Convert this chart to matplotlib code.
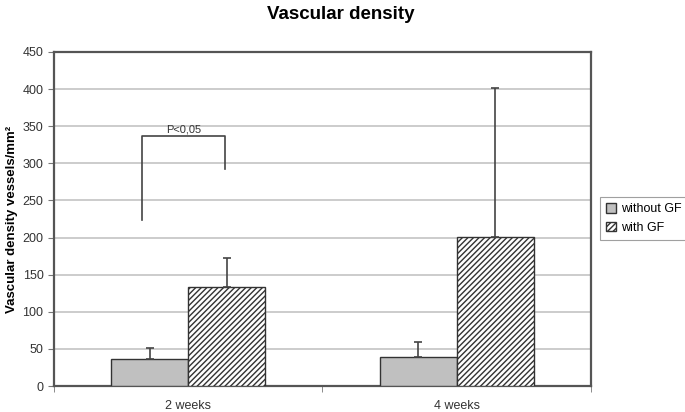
import numpy as np
import matplotlib.pyplot as plt

plt.rcParams['font.family'] = ['Liberation Sans', 'DejaVu Sans']
plt.rcParams['hatch.linewidth'] = 1.0

# data
groups = ['2 weeks', '4 weeks']
without_gf = [36, 39]
without_gf_err = [15, 20]
with_gf = [133, 201]
with_gf_err = [39, 200]
series_labels = ['without GF', 'with GF']

# significance bracket (left leg bottom, right leg bottom, top)
bracket_x = [-0.173, 0.136]
bracket_y = [224, 337, 292]
bracket_text = 'P<0,05'

fig = plt.figure(figsize=(6.85, 4.12), dpi=100)
ax = fig.add_axes([0.0788, 0.0631, 0.784, 0.8107])

x = np.arange(len(groups))
w = 0.287
edge = '#333333'

b1 = ax.bar(x - w / 2, without_gf, w, color='#c0c0c0', edgecolor=edge,
            linewidth=1.0, zorder=3, label=series_labels[0])
b2 = ax.bar(x + w / 2, with_gf, w, color='white', edgecolor=edge, hatch='//////',
            linewidth=1.0, zorder=3, label=series_labels[1])
ax.errorbar(x - w / 2, without_gf, yerr=[np.zeros(2), without_gf_err], fmt='none',
            ecolor='#444444', elinewidth=1.2, capsize=3, capthick=1.2, zorder=4)
ax.errorbar(x + w / 2, with_gf, yerr=[np.zeros(2), with_gf_err], fmt='none',
            ecolor='#444444', elinewidth=1.2, capsize=3, capthick=1.2, zorder=4)

# bracket
ax.plot([bracket_x[0], bracket_x[0], bracket_x[1], bracket_x[1]],
        [bracket_y[0], bracket_y[1], bracket_y[1], bracket_y[2]],
        color='#444444', lw=1.2, zorder=4)
ax.text(np.mean(bracket_x), bracket_y[1] + 2, bracket_text, ha='center', va='bottom',
        fontsize=8, color='#333333')

ax.set_xlim(-0.5, len(groups) - 0.5)
ax.set_ylim(0, 450)
ax.set_yticks(np.arange(0, 451, 50))
ax.yaxis.grid(True, color='#c4c4c4', lw=1.2, zorder=0)
ax.set_axisbelow(True)

ax.set_xticks(x)
ax.set_xticklabels(groups)
ax.set_xticks(np.arange(-0.5, len(groups), 1.0), minor=True)
ax.tick_params(axis='x', which='major', length=0, pad=10, labelsize=9, labelcolor='#333333')
ax.tick_params(axis='x', which='minor', length=4, color='#777777')
ax.tick_params(axis='y', length=4, color='#777777', labelsize=9, labelcolor='#333333')

for s in ax.spines.values():
    s.set_color('#555555')
    s.set_linewidth(1.6)

ax.set_ylabel('Vascular density vessels/mm²', fontsize=9.5, fontweight='bold', labelpad=3)
fig.text(0.498, 0.965, 'Vascular density', ha='center', va='center',
         fontsize=13.5, fontweight='bold')

leg = fig.legend(handles=[b1, b2], loc='upper left', bbox_to_anchor=(0.876, 0.522),
                 borderaxespad=0, fontsize=9, frameon=True, fancybox=False,
                 handlelength=0.8, handleheight=0.8, handletextpad=0.4,
                 labelspacing=0.5, borderpad=0.5)
leg.get_frame().set_edgecolor('#888888')
leg.get_frame().set_linewidth(0.8)

fig.savefig('out.png', dpi=100)
